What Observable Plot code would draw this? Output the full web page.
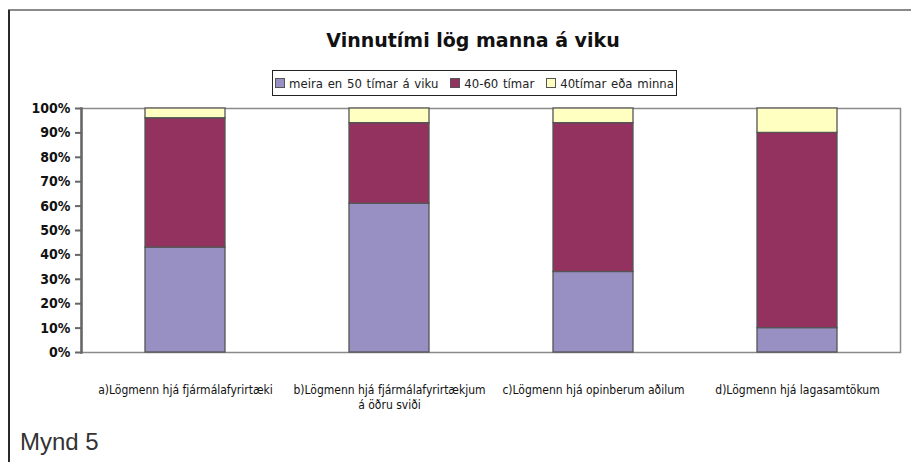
<!DOCTYPE html>
<html>
<head>
<meta charset="utf-8">
<script src="https://cdn.jsdelivr.net/npm/d3@7"></script>
<script src="https://cdn.jsdelivr.net/npm/@observablehq/plot@0.6"></script>
<style>
  html, body { margin: 0; padding: 0; background: #fff; }
  #wrap { position: relative; width: 911px; height: 462px; overflow: hidden; background: #fff; }
  .cond { font-family: "DejaVu Sans Condensed", "DejaVu Sans", sans-serif; font-stretch: condensed; }
  #topline { position: absolute; left: 8px; top: 9px; width: 903px; height: 2px; background: #8a8a8a; }
  #leftline { position: absolute; left: 8px; top: 10px; width: 1.5px; height: 452px; background: #2a2a2a; }
  #title { position: absolute; left: 223px; width: 500px; top: 29px; text-align: center;
           font-family: "DejaVu Sans", sans-serif; font-weight: bold; font-size: 19px; color: #111; }
  #legend { position: absolute; left: 272px; top: 70px; width: 403px; height: 24px; border: 1.3px solid #222;
            display: flex; align-items: center; justify-content: center; gap: 12px; font-size: 13px; color: #222; word-spacing: 1px; }
  .item { display: flex; align-items: center; gap: 4px; white-space: nowrap; }
  .sw { width: 8px; height: 8px; border: 1px solid #555; display: inline-block; }
  #chart { position: absolute; left: 0; top: 100px; }
  #chart svg text { font-stretch: condensed; }
  #caption { position: absolute; left: 20px; top: 428px; font-family: "Liberation Sans", Arial, sans-serif;
             font-size: 24px; color: #333; }
</style>
</head>
<body>
<div id="wrap">
  <div id="topline"></div>
  <div id="leftline"></div>
  <div id="title">Vinnutími lög manna á viku</div>
  <div id="legend" class="cond"></div>
  <div id="chart"></div>
  <div id="caption">Mynd 5</div>
</div>
<script>
const categories = [
  "a)Lögmenn hjá fjármálafyrirtæki",
  "b)Lögmenn hjá fjármálafyrirtækjum\ná öðru sviði",
  "c)Lögmenn hjá opinberum aðilum",
  "d)Lögmenn hjá lagasamtökum"
];
const seriesNames = ["meira en 50 tímar á viku", "40-60 tímar", "40tímar eða minna"];
const seriesColors = ["#9890c2", "#93325f", "#ffffc2"];
const over50 = [43, 61, 33, 10];
const between40and60 = [53, 33, 61, 80];
const under40 = [4, 6, 6, 10];
const yTicks = [0, 10, 20, 30, 40, 50, 60, 70, 80, 90, 100];

const valuesBySeries = [over50, between40and60, under40];
const rows = [];
categories.forEach((c, i) => {
  seriesNames.forEach((s, j) => rows.push({category: c, series: s, value: valuesBySeries[j][i]}));
});

const legend = document.getElementById("legend");
seriesNames.forEach((s, j) => {
  const it = document.createElement("span");
  it.className = "item";
  it.innerHTML = `<span class="sw" style="background:${seriesColors[j]}"></span><span>${s}</span>`;
  legend.appendChild(it);
});

const chart = Plot.plot({
  width: 911,
  height: 330,
  marginLeft: 81,
  marginRight: 11,
  marginTop: 8,
  marginBottom: 78,
  style: {
    fontFamily: '"DejaVu Sans Condensed", "DejaVu Sans", sans-serif',
    fontSize: "13px",
    color: "#111",
    background: "transparent"
  },
  x: {domain: categories, paddingInner: 0.61, paddingOuter: 0.305, axis: null, label: null},
  y: {domain: [0, 100], axis: null, label: null},
  color: {domain: seriesNames, range: seriesColors},
  marks: [
    Plot.frame({stroke: "#8a8a8a", strokeWidth: 1.5}),
    Plot.barY(rows, {
      x: "category", y: "value", fill: "series", order: seriesNames,
      stroke: "#555", strokeWidth: 1.3
    }),
    Plot.axisY({ticks: yTicks, tickFormat: d => d + "%", tickSize: 6, tickPadding: 5,
                stroke: "#666", strokeWidth: 2, fontSize: 14, fontWeight: 600, label: null}),
    Plot.frame({anchor: "left", stroke: "#666", strokeWidth: 2.5}),
    Plot.axisX({tickSize: 0, tickPadding: 30, fontSize: 12, lineHeight: 1.3, label: null}),
  ]
});
document.getElementById("chart").appendChild(chart);
</script>
</body>
</html>
